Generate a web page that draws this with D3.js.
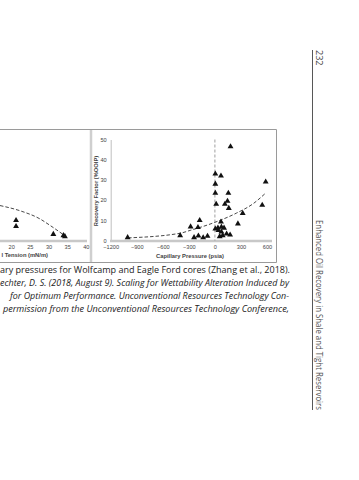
<!DOCTYPE html>
<html><head><meta charset="utf-8">
<script src="https://cdn.jsdelivr.net/npm/d3@7"></script>
<style>body{margin:0;background:#fff}svg{display:block}</style>
</head><body><svg id="c" width="359" height="480"></svg>
<script>
// ---- data ----
const rfTicks = [0, 10, 20, 30, 40, 50];
const pcTicks = [-1200, -900, -600, -300, 0, 300, 600];
const iftTicks = [20, 25, 30, 35, 40];
// Left panel (cut off): recovery factor vs interfacial tension
const iftX = [21.3, 21.3, 31.3, 34.0, 34.4];
const iftRF = [10, 7, 3.1, 2.5, 2.0];
const iftTrendX = [17.0, 22.4, 27.7, 30.4, 34.2];
const iftTrendRF = [17.3, 14.7, 10.7, 7.5, 2.6];
// Right panel: recovery factor vs capillary pressure
const pcX = [-1005, -400, -240, -190, -280, -195, -175, 5, 70, 180, 5, 5, 155, 585, 15, 145, 115, 160, 545, 320, 70, 265,
             5, 35, 75, 105, 40, 75, 55, 90, 135, 175, -135, -85];
const pcRF = [1.5, 2.5, 1.5, 2.3, 6.8, 6.5, 10, 33, 32, 46.5, 28, 23.5, 23.5, 29, 18, 19.5, 18, 16, 17.5, 13.5, 9.2, 8.3,
              5.8, 6.3, 6.7, 6.2, 5.0, 4.3, 2.0, 2.5, 3.3, 2.8, 1.4, 2.2];
const pcTrendX = [-1000, -400, -285, 0, 250, 440, 580];
const pcTrendRF = [1.3, 3.6, 5.0, 9.0, 13.6, 18.2, 23.3];
const captionLines = [
  "ary pressures for Wolfcamp and Eagle Ford cores (Zhang et al., 2018).",
  "echter, D. S. (2018, August 9). Scaling for Wettability Alteration Induced by",
  "for Optimum Performance. Unconventional Resources Technology Con-",
  " permission from the Unconventional Resources Technology Conference,"
];
const leftAxisTitle = "l Tension (mN/m)";
const pageNumber = "232";
const runningHead = "Enhanced Oil Recovery in Shale and Tight Reservoirs";

// ---- drawing ----
const svg = d3.select("#c");
svg.append("rect").attr("width", 359).attr("height", 480).attr("fill", "#fff");

const y = d3.scaleLinear().domain([0, 50]).range([240.5, 139.5]);
const xPc = d3.scaleLinear().domain([-1200, 600]).range([110.7, 267]);
const xIft = d3.scaleLinear().domain([20, 40]).range([11.2, 85.8]);

const FONT = "'Liberation Sans', Arial, sans-serif";
const tri = d3.symbol().type(d3.symbolTriangle).size(15);

// frame
const frame = svg.append("g").attr("stroke", "#9a9a9a").attr("stroke-width", 1).attr("fill", "none");
frame.append("line").attr("x1", 0).attr("x2", 276.5).attr("y1", 129.5).attr("y2", 129.5);
frame.append("line").attr("x1", 276.5).attr("x2", 276.5).attr("y1", 129.5).attr("y2", 262.5);
frame.append("line").attr("x1", 0).attr("x2", 276.5).attr("y1", 262.5).attr("y2", 262.5);
svg.append("line").attr("x1", 91).attr("x2", 91).attr("y1", 130).attr("y2", 262)
  .attr("stroke", "#cfcfcf").attr("stroke-width", 2.5);

// ---- left panel ----
const left = svg.append("g");
const lxAxis = left.append("g").attr("transform", "translate(0,241)")
  .call(d3.axisBottom(xIft).tickValues(iftTicks).tickSize(0).tickPadding(4));
lxAxis.select(".domain").remove();
left.append("line").attr("x1", 0).attr("x2", 87).attr("y1", 241).attr("y2", 241)
  .attr("stroke", "#c8c8c8").attr("stroke-width", 2.5);
lxAxis.selectAll("text").attr("font-family", FONT).attr("font-size", 5.6).attr("fill", "#444");
left.append("text").attr("x", 48).attr("y", 257).attr("text-anchor", "end")
  .attr("font-family", FONT).attr("font-size", 5.8).attr("font-weight", "bold").attr("fill", "#444")
  .text(leftAxisTitle);
left.append("path")
  .datum(d3.zip(iftTrendX, iftTrendRF))
  .attr("d", d3.line().x(d => xIft(d[0])).y(d => y(d[1])).curve(d3.curveMonotoneX))
  .attr("fill", "none").attr("stroke", "#333").attr("stroke-width", 0.9).attr("stroke-dasharray", "3.5,2");
left.selectAll("path.pt").data(d3.zip(iftX, iftRF)).join("path").attr("class", "pt")
  .attr("d", tri).attr("transform", d => `translate(${xIft(d[0])},${y(d[1])})`).attr("fill", "#111");

// ---- right panel ----
const right = svg.append("g");
const ryAxis = right.append("g").attr("transform", "translate(110.7,0)")
  .call(d3.axisLeft(y).tickValues(rfTicks).tickSize(0).tickPadding(4));
ryAxis.select(".domain").attr("stroke", "#b0b0b0").attr("stroke-width", 0.8);
ryAxis.selectAll("text").attr("font-family", FONT).attr("font-size", 5.6).attr("fill", "#444");
const rxAxis = right.append("g").attr("transform", "translate(0,241)")
  .call(d3.axisBottom(xPc).tickValues(pcTicks).tickSize(0).tickPadding(4)
    .tickFormat(d => d < 0 ? "\u2212" + Math.abs(d) : String(d)));
rxAxis.select(".domain").remove();
right.append("line").attr("x1", 110).attr("x2", 272).attr("y1", 241).attr("y2", 241)
  .attr("stroke", "#c8c8c8").attr("stroke-width", 2.5);
rxAxis.selectAll("text").attr("font-family", FONT).attr("font-size", 5.6).attr("fill", "#444");
right.append("text").attr("x", 190).attr("y", 257.5).attr("text-anchor", "middle")
  .attr("font-family", FONT).attr("font-size", 5.8).attr("font-weight", "bold").attr("fill", "#444")
  .text("Capillary Pressure (psia)");
right.append("text").attr("transform", "translate(98,191) rotate(-90)").attr("text-anchor", "middle")
  .attr("font-family", FONT).attr("font-size", 5.8).attr("font-weight", "bold").attr("fill", "#444")
  .text("Recovery Factor (%OOIP)");
right.append("line").attr("x1", xPc(0)).attr("x2", xPc(0)).attr("y1", y(50)).attr("y2", y(0))
  .attr("stroke", "#888").attr("stroke-width", 0.8).attr("stroke-dasharray", "3,2");
right.append("path")
  .datum(d3.zip(pcTrendX, pcTrendRF))
  .attr("d", d3.line().x(d => xPc(d[0])).y(d => y(d[1])).curve(d3.curveMonotoneX))
  .attr("fill", "none").attr("stroke", "#333").attr("stroke-width", 0.9).attr("stroke-dasharray", "3.5,2");
right.selectAll("path.pt").data(d3.zip(pcX, pcRF)).join("path").attr("class", "pt")
  .attr("d", tri).attr("transform", d => `translate(${xPc(d[0])},${y(d[1])})`).attr("fill", "#111");

// ---- caption ----
const capY = [272.5, 285.5, 298.5, 311.5];
const capX = [0, 0, 10, 3];
const capW = [290, 289, 279, 286];
svg.selectAll("text.cap").data(captionLines).join("text").attr("class", "cap")
  .attr("x", (d, i) => capX[i]).attr("y", (d, i) => capY[i])
  .attr("font-family", "'Open Sans', 'Noto Sans', sans-serif").attr("font-size", 8.6)
  .attr("font-style", (d, i) => i === 0 ? "normal" : "italic").attr("fill", "#222")
  .attr("textLength", (d, i) => capW[i]).attr("lengthAdjust", "spacingAndGlyphs")
  .text(d => d);

// ---- running head ----
svg.append("line").attr("x1", 312.5).attr("x2", 312.5).attr("y1", 50).attr("y2", 410)
  .attr("stroke", "#444").attr("stroke-width", 0.9);
svg.append("text").attr("transform", "translate(315.5,50) rotate(90)")
  .attr("font-family", "'Open Sans', 'Noto Sans', sans-serif").attr("font-size", 9).attr("fill", "#444")
  .text(pageNumber);
svg.append("text").attr("transform", "translate(315.5,220) rotate(90)")
  .attr("font-family", "'Open Sans', 'Noto Sans', sans-serif").attr("font-size", 8.8).attr("fill", "#555")
  .attr("textLength", 190).attr("lengthAdjust", "spacingAndGlyphs")
  .text(runningHead);
</script>
</body></html>
